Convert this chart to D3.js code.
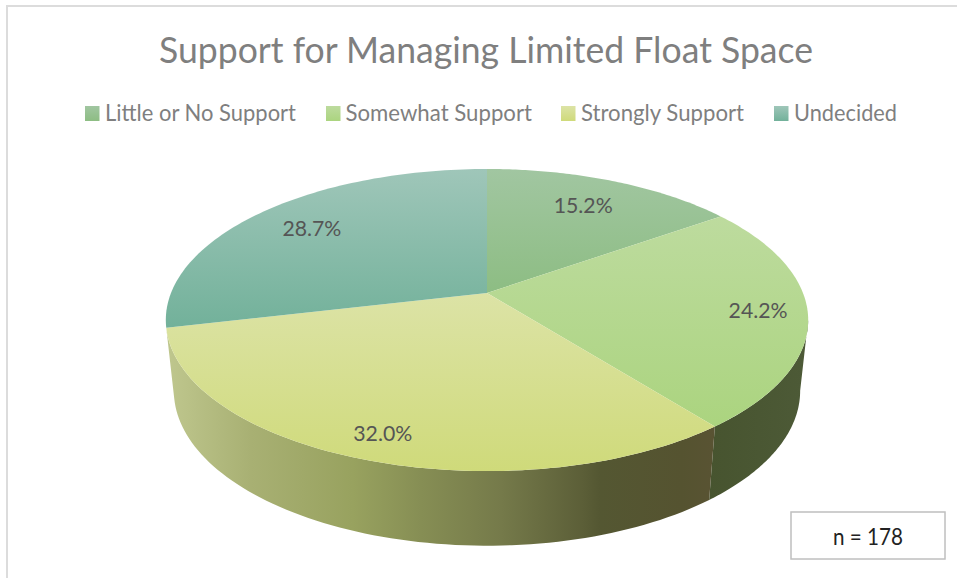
<!DOCTYPE html>
<html><head><meta charset="utf-8">
<script src="https://cdnjs.cloudflare.com/ajax/libs/d3/7.8.5/d3.min.js"></script>
<style>html,body{margin:0;padding:0;background:#fff}svg{display:block}text{font-family:Lato,"Open Sans",sans-serif}</style>
</head><body><svg id="c" width="957" height="578"></svg>
<script>
const categories = ["Little or No Support","Somewhat Support","Strongly Support","Undecided"];
const shares = [15.2,24.2,32.0,28.7];
const shareLabels = ["15.2%","24.2%","32.0%","28.7%"];
const titleText = "Support for Managing Limited Float Space";
const noteText = "n = 178";
const topLight = ["#a1c6a1","#bddb9e","#dce3a6","#9fc6b9"];
const topDark = ["#8dbd83","#abd47f","#cfda7a","#72b19a"];
const labelReach = [0.75,0.845,0.87,0.765];
const labelNudge = [-1,1,2,-0.5];

const svg = d3.select("#c"), defs = svg.append("defs");
const cx=487,apexY=293,a=316,b=146.2,p=-0.179;
const project=(ang,r,level)=>{
  const u=Math.sin(ang)*r,v=-Math.cos(ang)*r,d=1+p*v;
  return [cx+a*(1-0.025*level)*u/d, apexY+70*level+b*(1+0.026*level)*v/d];
};
const pie=d3.pie().sort(null).value(d=>d)(shares);
const line=d3.line();
const steps=(a0,a1,n=80)=>d3.range(n+1).map(i=>a0+(a1-a0)*i/n);

// frame
svg.append("path").attr("d","M7,578V6H957").attr("fill","none").attr("stroke","#dcdcdc").attr("stroke-width",2);

// rim
const rimStops={
  2:[[0,"#bfc78e"],[.155,"#a8b073"],[.34,"#98a25f"],[.465,"#868e54"],[.61,"#757a4a"],[.757,"#5c5f38"],[.79,"#545732"],[.94,"#555330"],[1,"#595333"]],
  1:[[0,"#47542f"],[1,"#4d5a37"]]};
const rightTangent=Math.acos(p);
[{i:1,a0:rightTangent,a1:pie[1].endAngle},{i:2,a0:pie[2].startAngle,a1:pie[2].endAngle}].forEach(s=>{
  const topArc=steps(s.a0,s.a1).map(t=>project(t,1,0));
  const botArc=steps(s.a1,s.a0).map(t=>project(t,1,1));
  const xs=topArc.concat(botArc).map(d=>d[0]);
  const id="rim"+s.i;
  const g=defs.append("linearGradient").attr("id",id).attr("gradientUnits","userSpaceOnUse")
    .attr("x1",d3.min(xs)).attr("x2",d3.max(xs)).attr("y1",0).attr("y2",0);
  rimStops[s.i].forEach(st=>g.append("stop").attr("offset",st[0]).attr("stop-color",st[1]));
  svg.append("path").attr("d",line(topArc.concat(botArc))+"Z").attr("fill",`url(#${id})`);
});

// top
pie.forEach((s,i)=>{
  const pts=[project(0,0,0)].concat(steps(s.startAngle,s.endAngle).map(t=>project(t,1,0)));
  const ys=pts.map(d=>d[1]);
  const g=defs.append("linearGradient").attr("id","top"+i).attr("gradientUnits","userSpaceOnUse")
    .attr("x1",0).attr("x2",0).attr("y1",d3.min(ys)).attr("y2",d3.max(ys));
  g.append("stop").attr("offset",0).attr("stop-color",topLight[i]);
  g.append("stop").attr("offset",1).attr("stop-color",topDark[i]);
  svg.append("path").attr("d",line(pts)+"Z").attr("fill",`url(#top${i})`);
  const mid=(s.startAngle+s.endAngle)/2, q=project(mid,labelReach[i],0);
  svg.append("text").attr("x",q[0]+labelNudge[i]).attr("y",q[1]+7.5).attr("text-anchor","middle")
    .attr("font-size",22).attr("fill","#555555").attr("textLength",59).attr("lengthAdjust","spacingAndGlyphs").text(shareLabels[i]);
});

// title
svg.append("text").attr("x",486).attr("y",62.5).attr("text-anchor","middle").attr("font-size",36.5)
  .attr("fill","#7f7f7f").attr("textLength",654).attr("lengthAdjust","spacingAndGlyphs").text(titleText);

// legend
const swatchX=[85,326,561,774], labelX=[105,345.5,581,794], labelLen=[191,186.5,163,103];
categories.forEach((c,i)=>{
  const g=defs.append("linearGradient").attr("id","lg"+i).attr("x1",0).attr("x2",0).attr("y1",0).attr("y2",1);
  g.append("stop").attr("offset",0).attr("stop-color",topLight[i]);
  g.append("stop").attr("offset",1).attr("stop-color",topDark[i]);
  svg.append("rect").attr("x",swatchX[i]).attr("y",106).attr("width",14.5).attr("height",15).attr("fill",`url(#lg${i})`);
  svg.append("text").attr("x",labelX[i]).attr("y",121).attr("font-size",23.5).attr("fill","#7f7f7f")
    .attr("textLength",labelLen[i]).attr("lengthAdjust","spacingAndGlyphs").text(c);
});

// note
svg.append("rect").attr("x",791).attr("y",512).attr("width",154).attr("height",47).attr("fill","#fff").attr("stroke","#bfbfbf").attr("stroke-width",1.5);
svg.append("text").attr("x",868).attr("y",545).attr("text-anchor","middle").attr("font-size",23).attr("fill","#222222")
  .attr("textLength",70).attr("lengthAdjust","spacingAndGlyphs").text(noteText);
</script></body></html>
